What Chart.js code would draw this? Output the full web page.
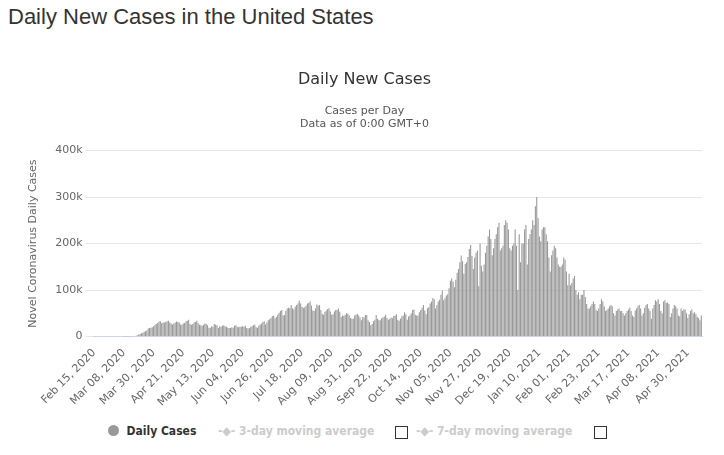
<!DOCTYPE html>
<html>
<head>
<meta charset="utf-8">
<script src="https://cdn.jsdelivr.net/npm/chart.js@4/dist/chart.umd.min.js"></script>
<style>
  body { margin: 0; background: #fff; font-family: "DejaVu Sans", sans-serif; }
  h1 { position: absolute; left: 8px; top: 4px; margin: 0; font: 22px "Liberation Sans", Arial, sans-serif; color: #333; }
  #wrap { position: absolute; left: 0; top: 55px; width: 724px; height: 356px; }
  #legend { position: absolute; top: 424px; left: 0; width: 724px; font: bold 12px "DejaVu Sans Condensed", "DejaVu Sans", sans-serif; }
  #legend span { position: absolute; white-space: nowrap; }
  .box { display: inline-block; width: 11px; height: 11px; border: 1px solid #333; }
</style>
</head>
<body>
<h1>Daily New Cases in the United States</h1>
<div id="wrap"><canvas id="chart"></canvas></div>
<div id="legend">
  <span style="left:108px;color:#333"><span style="position:static;display:inline-block;width:11px;height:11px;border-radius:50%;background:#999;vertical-align:-1px"></span>&nbsp; Daily Cases</span>
  <span style="left:218px;color:#ccc">-◆- 3-day moving average</span>
  <span style="left:395px;top:2px" class="box"></span>
  <span style="left:416px;color:#ccc">-◆- 7-day moving average</span>
  <span style="left:594px;top:2px" class="box"></span>
</div>
<script>
// daily new cases, thousands, starting Feb 15 2020
const feb20 = [0,0,0,0,0,0,0,0,0,0,0,0,0,0,0];
const mar20 = [0,0,0,0,0,0,0,0.1,0.1,0.2,0.3,0.4,0.5,0.7,0.8,1,1.5,2.5,4,5.5,7,8,10,11,13,17,18,19,20,22,25];
const apr20 = [27,29,32,33,29,30,30,31,33,34,30,28,26,28,30,32,31,30,26,25,28,29,33,34,36,27,25,27,30,31];
const may20 = [34,29,25,24,23,25,28,27,24,19,19,22,21,27,25,24,18,22,21,23,24,22,21,19,18,18,20,19,23,24,21];
const jun20 = [20,21,21,22,21,23,18,17,18,21,22,24,25,20,19,23,26,28,31,33,26,30,35,37,40,44,45,39,42,47];
const jul20 = [51,55,57,45,46,55,60,62,61,68,61,58,64,68,71,77,71,64,62,63,66,71,72,75,66,56,55,60,69,66,68];
const aug20 = [57,49,47,53,56,59,61,54,47,48,54,57,57,60,53,42,45,44,47,50,49,45,40,38,38,45,47,49,45,41,35];
const sep20 = [42,41,46,46,35,31,24,27,33,36,46,38,35,35,39,41,43,47,40,36,38,41,39,44,45,48,36,34,38,43];
const oct20 = [45,52,48,36,43,45,50,57,58,47,45,45,52,57,62,68,56,48,61,63,71,75,83,80,60,68,75,79,90,99,78];
const nov20 = [82,88,91,104,120,125,118,106,122,137,145,160,174,162,135,156,160,171,188,197,173,145,170,180,185,108,200,152,140,155];
const dec20 = [180,195,215,230,210,175,190,210,220,235,245,185,190,195,240,250,245,230,190,185,195,200,230,195,100,220,160,200,200,230,240];
const jan21 = [155,210,220,230,250,240,280,300,255,215,205,230,235,235,220,205,170,140,175,185,195,190,170,155,150,150,155,170,165,140,110];
const feb21 = [135,110,115,125,130,100,90,95,80,90,90,100,85,70,60,60,65,70,75,70,57,55,60,70,80,75,65,55];
const mar21 = [57,60,65,68,65,50,45,55,58,60,55,55,50,45,50,55,58,62,55,45,42,56,60,65,68,60,45,50,62,68,70];
const apr21 = [60,55,38,60,68,78,75,80,70,55,50,75,78,72,73,70,42,50,60,68,65,60,45,43,60,55,58,58,50,40];
const may21 = [48,55,58,50,52,48,42,40,35,45];

const cases = [].concat(feb20, mar20, apr20, may20, jun20, jul20, aug20, sep20, oct20, nov20, dec20, jan21, feb21, mar21, apr21, may21)
    .map(v => v * 1000);

const months = ['Jan','Feb','Mar','Apr','May','Jun','Jul','Aug','Sep','Oct','Nov','Dec'];
const labels = [];
for (let i = 0; i < cases.length; i++) {
    const d = new Date(Date.UTC(2020, 1, 15 + i));
    labels.push(months[d.getUTCMonth()] + ' ' + String(d.getUTCDate()).padStart(2, '0') + ', ' + d.getUTCFullYear());
}

new Chart(document.getElementById('chart'), {
    type: 'bar',
    data: {
        labels: labels,
        datasets: [{
            label: 'Daily Cases',
            data: cases,
            backgroundColor: '#999999',
            categoryPercentage: 1,
            barPercentage: 0.8
        }]
    },
    options: {
        responsive: true,
        maintainAspectRatio: false,
        animation: false,
        layout: { padding: { left: 27, right: 22, top: 0, bottom: 0 } },
        plugins: {
            legend: { display: false },
            tooltip: { enabled: false },
            title: {
                display: true,
                text: 'Daily New Cases',
                color: '#333',
                font: { family: 'DejaVu Sans', size: 16, weight: 'normal' },
                padding: { top: 15, bottom: 15 }
            },
            subtitle: {
                display: true,
                text: ['Cases per Day', 'Data as of 0:00 GMT+0'],
                color: '#555',
                font: { family: 'DejaVu Sans', size: 11 },
                padding: { bottom: 20 }
            }
        },
        scales: {
            y: {
                min: 0,
                max: 400000,
                border: { display: false },
                grid: { color: '#e6e6e6' },
                ticks: {
                    stepSize: 100000,
                    color: '#666',
                    font: { family: 'DejaVu Sans', size: 11 },
                    callback: v => v === 0 ? '0' : (v / 1000) + 'k'
                },
                title: {
                    display: true,
                    text: 'Novel Coronavirus Daily Cases',
                    color: '#666',
                    font: { family: 'DejaVu Sans', size: 11 },
                    padding: { top: 0, bottom: 12 }
                }
            },
            x: {
                border: { color: '#ccd6eb' },
                grid: { display: false },
                ticks: {
                    autoSkip: false,
                    maxRotation: 45,
                    minRotation: 45,
                    color: '#666',
                    padding: 2,
                    font: { family: 'DejaVu Sans', size: 11 },
                    callback: function (v, i) {
                        return i % 22 === 0 ? this.getLabelForValue(v) : '';
                    }
                }
            }
        }
    }
});
</script>
</body>
</html>
